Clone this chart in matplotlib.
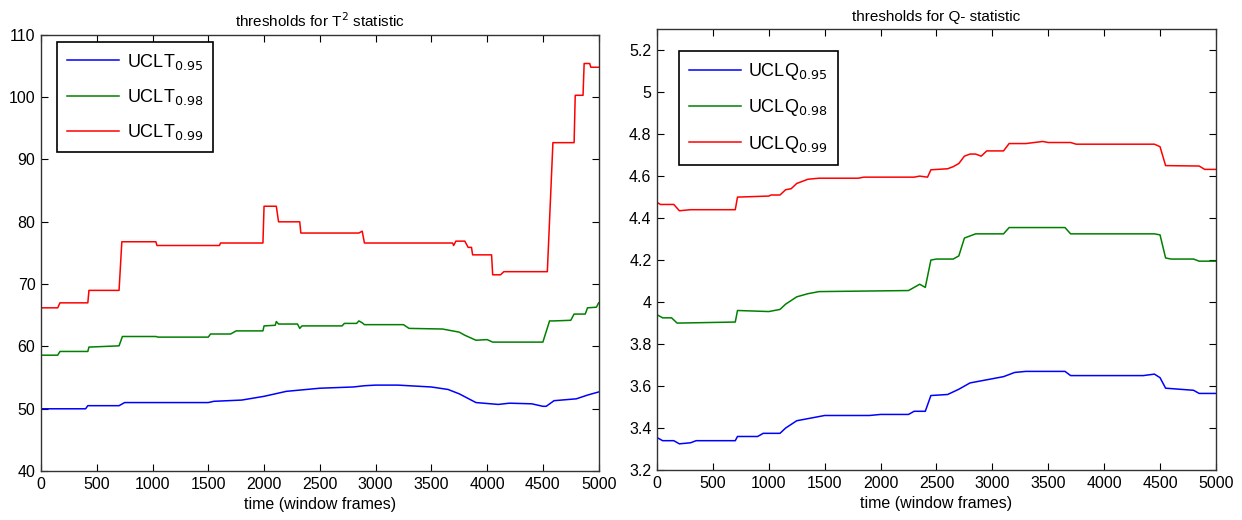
import matplotlib
matplotlib.use("Agg")
import matplotlib.pyplot as plt

plt.rcParams["font.family"] = ["Liberation Sans", "DejaVu Sans"]

# ---- T^2 thresholds (breakpoints) ----
t_red_x = [0, 150, 170, 420, 430, 700, 725, 1030, 1040, 1600, 1610, 1990, 2000, 2110, 2130,
           2320, 2330, 2850, 2880, 2900, 3690, 3700, 3720, 3800, 3830, 3860, 3870, 4040, 4050,
           4120, 4150, 4540, 4590, 4780, 4790, 4860, 4870, 4920, 4930, 5000]
t_red_y = [66.2, 66.2, 67.0, 67.0, 69.0, 69.0, 76.8, 76.8, 76.2, 76.2, 76.6, 76.6, 82.5, 82.5, 80.0,
           80.0, 78.2, 78.2, 78.5, 76.6, 76.6, 76.2, 76.9, 76.9, 75.9, 75.9, 74.7, 74.7, 71.5,
           71.5, 72.0, 72.0, 92.7, 92.7, 100.3, 100.3, 105.4, 105.4, 104.8, 104.8]

t_green_x = [0, 150, 170, 420, 430, 700, 730, 1030, 1050, 1500, 1520, 1700, 1750, 1990, 2000,
             2100, 2110, 2130, 2300, 2320, 2340, 2700, 2720, 2830, 2850, 2880, 2900, 3250,
             3300, 3600, 3750, 3800, 3900, 4000, 4050, 4500, 4560, 4600, 4750, 4780, 4880,
             4900, 4980, 5000]
t_green_y = [58.6, 58.6, 59.2, 59.2, 59.9, 60.1, 61.6, 61.6, 61.5, 61.5, 62.0, 62.0, 62.5, 62.5,
             63.3, 63.4, 64.0, 63.6, 63.6, 62.9, 63.3, 63.3, 63.7, 63.7, 64.1, 63.8, 63.5,
             63.5, 62.9, 62.8, 62.3, 61.8, 61.0, 61.1, 60.7, 60.7, 64.1, 64.1, 64.2, 65.2,
             65.2, 66.2, 66.3, 67.0]

t_blue_x = [0, 400, 420, 700, 750, 1500, 1550, 1800, 2000, 2200, 2500, 2800, 2900, 3000, 3200,
            3500, 3650, 3750, 3900, 4100, 4200, 4400, 4500, 4530, 4600, 4800, 4900, 5000]
t_blue_y = [50.0, 50.0, 50.5, 50.5, 51.0, 51.0, 51.2, 51.4, 52.0, 52.8, 53.3, 53.5, 53.7, 53.8,
            53.8, 53.5, 53.1, 52.4, 51.0, 50.7, 50.9, 50.8, 50.4, 50.4, 51.3, 51.6, 52.2, 52.7]

# ---- Q thresholds ----
q_red_x = [0, 30, 150, 200, 300, 700, 720, 1000, 1020, 1100, 1150, 1200, 1250, 1350, 1450,
           1800, 1850, 2300, 2350, 2420, 2450, 2600, 2650, 2700, 2750, 2800, 2850, 2900, 2950,
           3100, 3150, 3300, 3450, 3500, 3700, 3750, 4450, 4500, 4550, 4850, 4900, 5000]
q_red_y = [4.475, 4.465, 4.465, 4.435, 4.44, 4.44, 4.50, 4.505, 4.51, 4.51, 4.535, 4.54, 4.565,
           4.585, 4.59, 4.59, 4.595, 4.595, 4.60, 4.595, 4.63, 4.635, 4.645, 4.66, 4.695,
           4.705, 4.705, 4.695, 4.72, 4.72, 4.755, 4.755, 4.765, 4.76, 4.76, 4.752, 4.752,
           4.74, 4.65, 4.648, 4.632, 4.632]

q_green_x = [0, 50, 130, 180, 700, 720, 1000, 1100, 1150, 1250, 1350, 1450, 2250, 2300, 2350,
             2400, 2450, 2500, 2650, 2700, 2750, 2850, 3100, 3150, 3650, 3700, 4450, 4500,
             4550, 4600, 4800, 4850, 5000]
q_green_y = [3.94, 3.925, 3.925, 3.90, 3.905, 3.96, 3.955, 3.965, 3.99, 4.025, 4.04, 4.05, 4.055,
             4.07, 4.085, 4.07, 4.20, 4.205, 4.205, 4.22, 4.305, 4.325, 4.325, 4.355, 4.355,
             4.325, 4.325, 4.32, 4.21, 4.205, 4.205, 4.195, 4.195]

q_blue_x = [0, 50, 150, 200, 300, 350, 700, 720, 900, 950, 1100, 1150, 1250, 1400, 1500, 1900,
            2000, 2250, 2300, 2400, 2450, 2600, 2700, 2800, 3000, 3100, 3200, 3300, 3650, 3700,
            4350, 4450, 4500, 4550, 4800, 4850, 5000]
q_blue_y = [3.355, 3.34, 3.34, 3.325, 3.33, 3.34, 3.34, 3.36, 3.36, 3.375, 3.375, 3.40, 3.435,
            3.45, 3.46, 3.46, 3.465, 3.465, 3.48, 3.48, 3.555, 3.56, 3.585, 3.615, 3.635, 3.645,
            3.665, 3.67, 3.67, 3.65, 3.65, 3.657, 3.64, 3.59, 3.58, 3.565, 3.565]

labels_t = [r"UCLT$_{0.95}$", r"UCLT$_{0.98}$", r"UCLT$_{0.99}$"]
labels_q = [r"UCLQ$_{0.95}$", r"UCLQ$_{0.98}$", r"UCLQ$_{0.99}$"]
colors = ["#0000ff", "#008000", "#ff0000"]


def style(ax):
    ax.tick_params(direction="in", top=True, right=True, length=5, labelsize=11.5,
                   colors="#000000", pad=4)
    for s in ax.spines.values():
        s.set_color("#333333")
        s.set_linewidth(1.0)
    ax.set_xlim(0, 5000)
    ax.set_xticks(range(0, 5001, 500))
    ax.set_xlabel("time (window frames)", fontsize=11.5, labelpad=4)


def add_legend(ax, anchor):
    leg = ax.legend(loc="upper left", bbox_to_anchor=anchor, borderaxespad=0, fontsize=13,
                    fancybox=False, edgecolor="black", framealpha=1, handlelength=2.9,
                    handletextpad=0.4, labelspacing=0.85, borderpad=0.55)
    leg.get_frame().set_linewidth(1.2)


fig = plt.figure(figsize=(12.42, 5.2), dpi=100)
ax1 = fig.add_axes([0.033, 0.094, 0.449, 0.839])
ax2 = fig.add_axes([0.529, 0.096, 0.450, 0.848])

for xs, ys, c, lab in zip([t_blue_x, t_green_x, t_red_x], [t_blue_y, t_green_y, t_red_y],
                          colors, labels_t):
    ax1.plot(xs, ys, color=c, lw=1.1, label=lab)
style(ax1)
ax1.set_ylim(40, 110)
ax1.set_yticks(range(40, 111, 10))
ax1.set_title(r"thresholds for T$^2$ statistic", fontsize=11, pad=6)
add_legend(ax1, (0.029, 0.984))

for xs, ys, c, lab in zip([q_blue_x, q_green_x, q_red_x], [q_blue_y, q_green_y, q_red_y],
                          colors, labels_q):
    ax2.plot(xs, ys, color=c, lw=1.1, label=lab)
style(ax2)
ax2.set_ylim(3.2, 5.3)
ax2.set_yticks([3.2, 3.4, 3.6, 3.8, 4.0, 4.2, 4.4, 4.6, 4.8, 5.0, 5.2])
ax2.set_yticklabels(["3.2", "3.4", "3.6", "3.8", "4", "4.2", "4.4", "4.6", "4.8", "5", "5.2"])
ax2.set_title("thresholds for Q- statistic", fontsize=11, pad=6)
add_legend(ax2, (0.039, 0.95))

fig.savefig("out.png", dpi=100)
